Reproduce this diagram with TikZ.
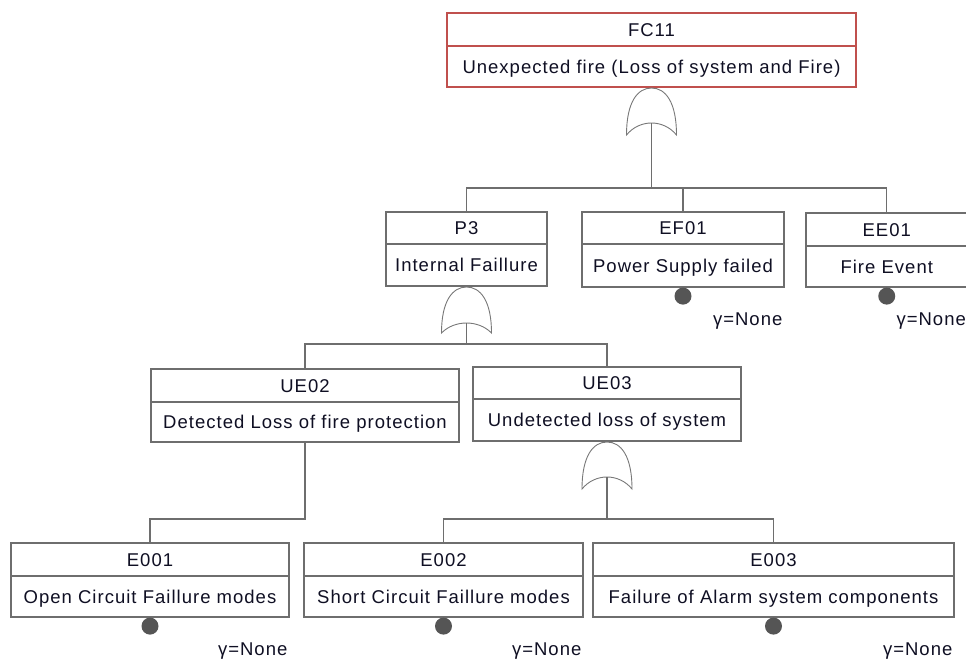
\documentclass[tikz,border=0pt]{standalone}
\usepackage{fontspec}
\setmainfont{Liberation Sans}[LetterSpace=5.5]
\definecolor{linegray}{RGB}{110,110,110}
\definecolor{gatec}{RGB}{120,120,120}
\definecolor{redb}{RGB}{192,80,77}
\definecolor{dotc}{RGB}{85,85,85}
\definecolor{txtc}{RGB}{15,15,35}
\tikzset{
  boxst/.style={draw=linegray, line width=1.2pt, fill=white, inner sep=0pt},
  topbox/.style={boxst, draw=redb},
  txt/.style={font=\fontsize{18.5}{22}\selectfont, text=txtc, inner sep=0pt, text height=13.2pt, text depth=0pt},
  conn/.style={draw=linegray, line width=1.2pt},
  gatest/.style={draw=gatec, line width=0.9pt},
  dotst/.style={circle, fill=dotc, minimum size=17pt, inner sep=0pt},
}
% #1 name, #2 left, #3 right, #4 top, #5 divider, #6 bottom, #7 id, #8 description, #9 style
\newcommand{\ftbox}[9]{%
  \node[#9, minimum width={#3pt-#2pt}, minimum height={#6pt-#4pt}] (#1) at ({(#2+#3)/2},{(#4+#6)/2}) {};
  \draw[#9, fill=none] (#2,#5) -- (#3,#5);
  \node[txt] (#1-id) at ({(#2+#3)/2},{(#4+#5)/2}) {#7};
  \node[txt] (#1-desc) at ({(#2+#3)/2},{(#5+#6)/2}) {#8};
}
% #1 name, #2 centre x, #3 top, #4 tips, #5 inner top
\newcommand{\orgate}[5]{%
  \draw[gatest] (#2-25,#4) .. controls (#2-25,#3+14) and (#2-14,#3) .. (#2,#3)
    .. controls (#2+14,#3) and (#2+25,#3+14) .. (#2+25,#4)
    .. controls (#2+12,{(4*#5-#4)/3}) and (#2-12,{(4*#5-#4)/3}) .. cycle;
  \coordinate (#1-in) at (#2,#5);
  \coordinate (#1-top) at (#2,#3);
}
\newcommand{\basicev}[2]{%
  \node[dotst] (#1-dot) at ([yshift=-8.5pt]#1.south) {};
  \node[txt, anchor=east] (#1-g) at ([shift={(-2,#2)}]#1.south east) {γ=None};
}
\begin{document}
\begin{tikzpicture}[x=1pt, y=-1pt]
\useasboundingbox (0,0) rectangle (966,659);
% boxes
\ftbox{FC11}{447}{856}{13}{46}{87}{FC11}{Unexpected fire (Loss of system and Fire)}{topbox}
\ftbox{P3}{386}{547}{212}{244}{286}{P3}{Internal Faillure}{boxst}
\ftbox{EF01}{582}{784}{212}{244}{287}{EF01}{Power Supply failed}{boxst}
\ftbox{EE01}{806}{967.5}{213}{246}{287}{EE01}{Fire Event}{boxst}
\ftbox{UE02}{151}{459}{369}{402}{442}{UE02}{Detected Loss of fire protection}{boxst}
\ftbox{UE03}{473}{741}{367}{399}{441}{UE03}{Undetected loss of system}{boxst}
\ftbox{E001}{11}{289}{543}{576}{617}{E001}{Open Circuit Faillure modes}{boxst}
\ftbox{E002}{304}{583}{543}{576}{617}{E002}{Short Circuit Faillure modes}{boxst}
\ftbox{E003}{593}{954}{543}{576}{617}{E003}{Failure of Alarm system components}{boxst}
% gates
\orgate{g1}{651.5}{88}{135}{123}
\orgate{g2}{466.5}{287}{333}{323}
\orgate{g3}{607}{442}{489}{477}
% bus points
\coordinate (b1) at (651.5,188);
\coordinate (b2) at (466.5,344);
\coordinate (b3) at (607,519);
\coordinate (b4) at (305,519);
% connectors
\draw[conn] (g1-in) -- (b1);
\draw[conn] (P3.north) -- (P3.north |- b1) -- (EE01.north |- b1) -- (EE01.north);
\draw[conn] (EF01.north) -- (EF01.north |- b1);
\draw[conn] (g2-in) -- (b2);
\draw[conn] (UE02.north) -- (UE02.north |- b2) -- (UE03.north |- b2) -- (UE03.north);
\draw[conn] (UE02.south) -- (b4) -- (b4 -| E001.north) -- (E001.north);
\draw[conn] (g3-in) -- (b3);
\draw[conn] (E002.north) -- (E002.north |- b3) -- (E003.north |- b3) -- (E003.north);
% basic events
\basicev{EF01}{31}
\basicev{EE01}{31}
\basicev{E001}{31}
\basicev{E002}{31}
\basicev{E003}{31}
\end{tikzpicture}
\end{document}
